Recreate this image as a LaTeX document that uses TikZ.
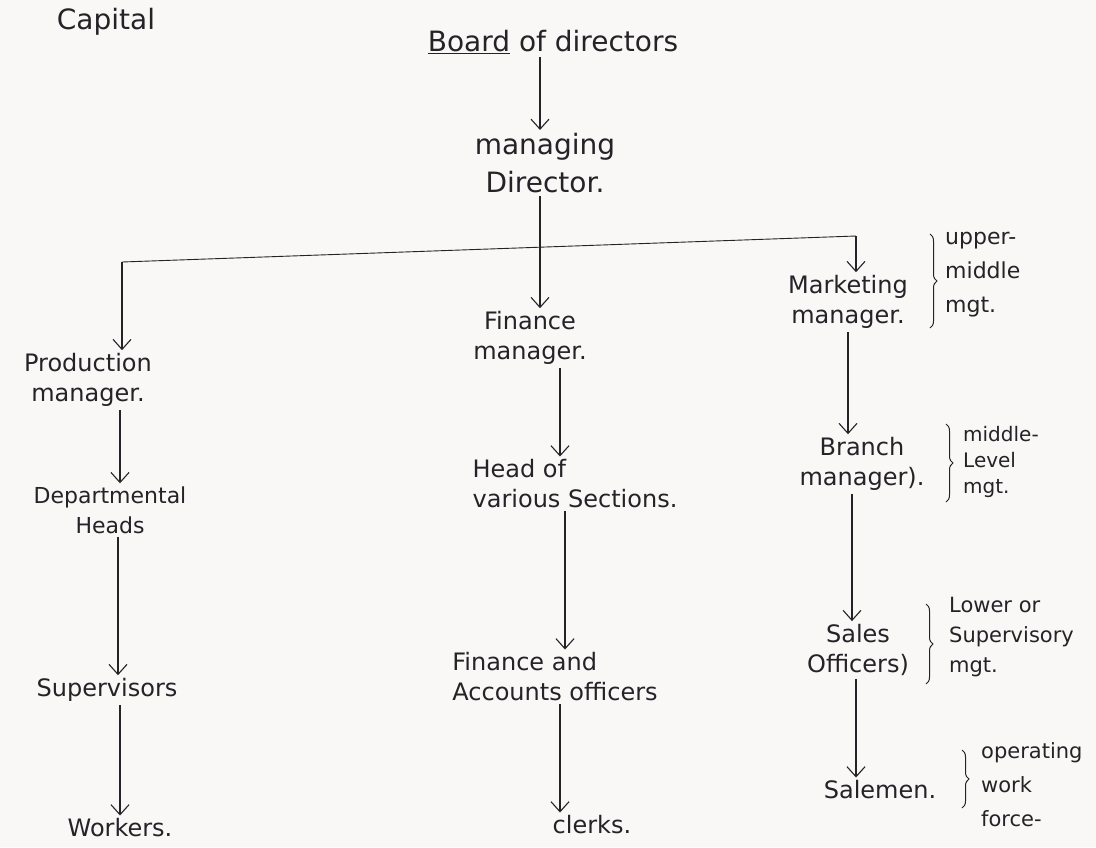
\documentclass[tikz,border=0pt]{standalone}
\usepackage{fontspec}
\setmainfont{DejaVu Sans}
\usetikzlibrary{arrows.meta,decorations.pathreplacing}
\definecolor{ink}{RGB}{35,35,40}
\definecolor{paper}{RGB}{249,248,246}
\begin{document}
\begin{tikzpicture}[x=1pt,y=-1pt,
  lbl/.style={font=\fontsize{24}{30}\selectfont, align=center, inner sep=3pt, text=ink},
  big/.style={font=\fontsize{28}{38}\selectfont},
  sml/.style={font=\fontsize{21}{33}\selectfont, align=left, inner sep=1pt, text=ink},
  arr/.style={draw=ink, line width=1.1pt, -{Straight Barb[length=10pt,width=18pt]}},
  ln/.style={draw=ink, line width=0.9pt},
  brc/.style={draw=ink, line width=1pt, decorate, decoration={brace, amplitude=7pt}}]
\useasboundingbox (0,0) rectangle (1096,847);
\fill[paper] (0,0) rectangle (1096,847);

% top
\node[lbl,font=\fontsize{28}{34}\selectfont] (cap) at (106,22) {Capital};
\node[lbl,big] (bod) at (553,42) {\underline{Board} of directors};
\node[lbl,big] (md) at (545,163) {managing\\Director.};
\draw[arr] (bod.south -| 540,0) -- (md.north -| 540,0);

% junction line
\coordinate (jl) at (122,262);
\coordinate (jr) at (856,236);
\draw[ln] (jl) -- (jr);

% left column
\node[lbl] (pm) at (88,380) {Production\\manager.};
\node[lbl,font=\fontsize{22}{30}\selectfont] (dh) at (110,510) {Departmental\\Heads};
\node[lbl] (sup) at (107,690) {Supervisors};
\node[lbl] (wk) at (120,828) {Workers.};
\draw[arr] (jl) -- (jl |- pm.north);
\draw[arr] (pm.south -| 120,0) -- (dh.north -| 120,0);
\draw[arr] (dh.south -| 118,0) -- (sup.north -| 118,0);
\draw[arr] (sup.south -| 120,0) -- (wk.north -| 120,0);

% middle column
\node[lbl] (fm) at (530,338) {Finance\\manager.};
\node[lbl,align=left] (hv) at (575,484) {Head of\\various Sections.};
\node[lbl,align=left] (fa) at (555,677) {Finance and\\Accounts officers};
\node[lbl] (cl) at (592,825) {clerks.};
\draw[arr] (md.south -| 540,0) -- (fm.north -| 540,0);
\draw[arr] (fm.south -| 560,0) -- (hv.north -| 560,0);
\draw[arr] (hv.south -| 565,0) -- (fa.north -| 565,0);
\draw[arr] (fa.south -| 560,0) -- (cl.north -| 560,0);

% right column
\node[lbl] (mm) at (848,302) {Marketing\\manager.};
\node[lbl] (bm) at (862,464) {Branch\\manager).};
\node[lbl] (so) at (858,650) {Sales\\Officers)};
\node[lbl] (sm) at (880,790) {Salemen.};
\draw[arr] (jr) -- (jr |- mm.north);
\draw[arr] (mm.south -| 848,0) -- (bm.north -| 848,0);
\draw[arr] (bm.south -| 852,0) -- (so.north -| 852,0);
\draw[arr] (so.south -| 856,0) -- (sm.north -| 856,0);

% braces and level labels
\draw[brc] (930,234) -- (930,328);
\node[sml,font=\fontsize{22}{34}\selectfont,anchor=west] (ul) at (944,275) {upper-\\middle\\mgt.};
\draw[brc] (946,424) -- (946,502);
\node[sml,font=\fontsize{20}{26}\selectfont,anchor=west] (ml) at (962,462) {middle-\\Level\\mgt.};
\draw[brc] (926,604) -- (926,684);
\node[sml,font=\fontsize{21}{30}\selectfont,anchor=west] (ll) at (948,637) {Lower or\\Supervisory\\mgt.};
\draw[brc] (962,750) -- (962,808);
\node[sml,font=\fontsize{21}{34}\selectfont,anchor=west] (ow) at (980,785) {operating\\work\\force-};
\end{tikzpicture}
\end{document}
